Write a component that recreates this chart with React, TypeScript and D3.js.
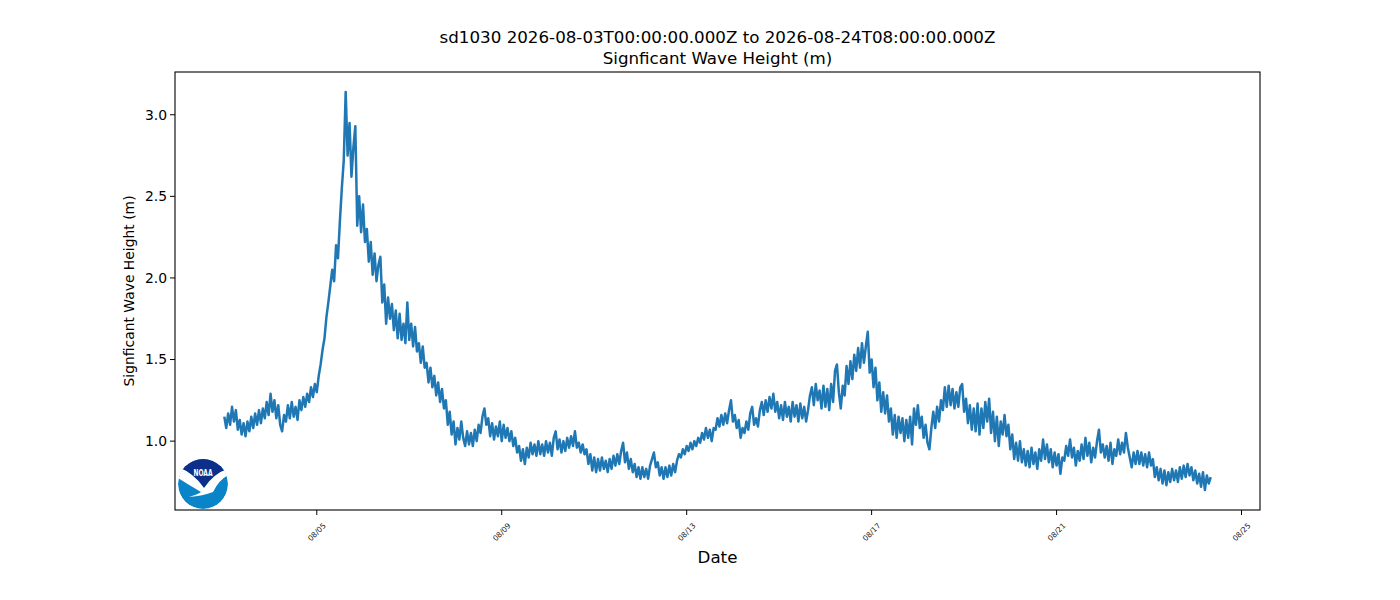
import React, { useEffect, useRef } from 'react';
import * as d3 from 'd3';

// hourly significant wave height (m), one array per UTC day
const aug03 = [1.15, 1.08, 1.17, 1.10, 1.21, 1.12, 1.19, 1.07, 1.13, 1.04, 1.11, 1.03, 1.12, 1.06, 1.15, 1.08, 1.17, 1.10, 1.19, 1.11, 1.20, 1.14, 1.24, 1.16];
const aug04 = [1.29, 1.18, 1.25, 1.14, 1.22, 1.10, 1.06, 1.16, 1.12, 1.22, 1.14, 1.24, 1.15, 1.21, 1.13, 1.25, 1.19, 1.27, 1.21, 1.29, 1.24, 1.33, 1.27, 1.35];
const aug05 = [1.30, 1.40, 1.47, 1.56, 1.63, 1.76, 1.85, 1.95, 2.05, 1.98, 2.20, 2.12, 2.35, 2.55, 2.72, 3.14, 2.75, 2.95, 2.62, 2.80, 2.93, 2.32, 2.50, 2.28];
const aug06 = [2.45, 2.22, 2.30, 2.10, 2.22, 2.02, 2.15, 1.98, 2.08, 2.13, 1.85, 1.96, 1.72, 1.88, 1.75, 1.84, 1.68, 1.80, 1.63, 1.78, 1.62, 1.72, 1.60, 1.85];
const aug07 = [1.62, 1.72, 1.58, 1.70, 1.55, 1.60, 1.48, 1.58, 1.45, 1.48, 1.36, 1.45, 1.33, 1.40, 1.28, 1.36, 1.24, 1.32, 1.20, 1.25, 1.10, 1.18, 1.04, 1.12];
const aug08 = [0.98, 1.08, 1.01, 1.12, 1.02, 0.97, 1.06, 0.98, 1.05, 0.97, 1.07, 1.00, 1.10, 1.05, 1.15, 1.20, 1.10, 1.14, 1.03, 1.11, 1.01, 1.09, 1.03, 1.12];
const aug09 = [1.00, 1.10, 1.02, 1.08, 1.00, 1.06, 0.97, 1.02, 0.93, 0.97, 0.88, 0.95, 0.86, 0.96, 0.90, 0.99, 0.92, 0.98, 0.91, 1.00, 0.92, 0.98, 0.91, 1.00];
const aug10 = [0.93, 0.99, 0.91, 1.02, 1.06, 0.95, 1.01, 0.93, 1.00, 0.94, 1.02, 0.96, 1.03, 0.97, 1.06, 0.96, 0.99, 0.93, 0.98, 0.92, 0.95, 0.86, 0.92, 0.82];
const aug11 = [0.90, 0.81, 0.89, 0.82, 0.90, 0.83, 0.88, 0.81, 0.89, 0.83, 0.91, 0.85, 0.92, 0.86, 0.94, 0.99, 0.87, 0.93, 0.83, 0.89, 0.81, 0.86, 0.78, 0.84];
const aug12 = [0.77, 0.84, 0.78, 0.83, 0.77, 0.85, 0.89, 0.93, 0.84, 0.87, 0.79, 0.84, 0.77, 0.84, 0.78, 0.85, 0.79, 0.86, 0.81, 0.88, 0.92, 0.90, 0.95, 0.92];
const aug13 = [0.97, 0.94, 0.99, 0.95, 1.00, 0.97, 1.02, 0.99, 1.05, 1.01, 1.08, 1.02, 1.07, 1.00, 1.08, 1.07, 1.14, 1.09, 1.16, 1.10, 1.17, 1.11, 1.19, 1.25];
const aug14 = [1.12, 1.16, 1.08, 1.13, 1.02, 1.08, 1.05, 1.12, 1.07, 1.17, 1.21, 1.10, 1.14, 1.09, 1.19, 1.24, 1.16, 1.25, 1.18, 1.27, 1.20, 1.29, 1.18, 1.24];
const aug15 = [1.14, 1.22, 1.13, 1.24, 1.15, 1.21, 1.12, 1.24, 1.15, 1.22, 1.12, 1.23, 1.14, 1.21, 1.12, 1.19, 1.28, 1.33, 1.22, 1.35, 1.25, 1.31, 1.20, 1.34];
const aug16 = [1.21, 1.32, 1.19, 1.35, 1.24, 1.43, 1.47, 1.30, 1.20, 1.34, 1.28, 1.46, 1.35, 1.49, 1.38, 1.53, 1.43, 1.57, 1.45, 1.60, 1.48, 1.58, 1.67, 1.42];
const aug17 = [1.50, 1.33, 1.45, 1.25, 1.36, 1.18, 1.30, 1.17, 1.28, 1.12, 1.20, 1.04, 1.16, 1.02, 1.15, 1.05, 1.14, 1.00, 1.13, 1.02, 1.15, 0.98, 1.20, 1.10];
const aug18 = [1.22, 1.08, 1.15, 1.02, 1.10, 0.99, 0.95, 1.08, 1.18, 1.08, 1.21, 1.12, 1.25, 1.19, 1.33, 1.21, 1.34, 1.22, 1.32, 1.20, 1.30, 1.21, 1.33, 1.35];
const aug19 = [1.18, 1.26, 1.11, 1.22, 1.07, 1.20, 1.06, 1.23, 1.04, 1.20, 1.08, 1.24, 1.12, 1.26, 1.05, 1.18, 1.00, 1.15, 0.97, 1.12, 1.04, 1.16, 1.03, 1.10];
const aug20 = [0.95, 1.04, 0.89, 0.99, 0.88, 1.00, 0.87, 0.95, 0.85, 0.94, 0.84, 0.96, 0.86, 0.93, 0.83, 0.95, 0.88, 1.01, 0.89, 0.98, 0.87, 0.95, 0.84, 0.93];
const aug21 = [0.85, 0.92, 0.80, 0.90, 0.88, 0.97, 0.91, 1.01, 0.90, 0.96, 0.85, 0.94, 0.88, 0.98, 0.89, 1.02, 0.91, 0.99, 0.87, 0.96, 0.90, 1.00, 1.07, 0.93];
const aug22 = [0.98, 0.90, 0.97, 0.88, 0.99, 0.86, 0.95, 0.91, 1.01, 0.92, 0.99, 0.93, 1.05, 0.96, 0.90, 0.84, 0.93, 0.86, 0.94, 0.86, 0.93, 0.85, 0.92, 0.84];
const aug23 = [0.93, 0.85, 0.89, 0.78, 0.84, 0.76, 0.83, 0.74, 0.82, 0.73, 0.81, 0.75, 0.83, 0.76, 0.82, 0.75, 0.84, 0.77, 0.85, 0.78, 0.86, 0.79, 0.84, 0.76];
const aug24 = [0.82, 0.74, 0.80, 0.72, 0.81, 0.70, 0.79, 0.74, 0.78];

const days = [aug03, aug04, aug05, aug06, aug07, aug08, aug09, aug10, aug11, aug12, aug13, aug14, aug15, aug16, aug17, aug18, aug19, aug20, aug21, aug22, aug23, aug24];

const xTickLabels = ['08/05', '08/09', '08/13', '08/17', '08/21', '08/25'];
const yTicks = [1.0, 1.5, 2.0, 2.5, 3.0];

const station = 'sd1030';
const startIso = '2026-08-03T00:00:00.000Z';
const endIso = '2026-08-24T08:00:00.000Z';

const HOUR = 3600000;
const FONT = '"DejaVu Sans", sans-serif';

interface Sample {
  t: Date;
  hs: number;
}

const App: React.FC = () => {
  const svgRef = useRef<SVGSVGElement>(null);
  const width = 1400;
  const height = 600;

  useEffect(() => {
    if (!svgRef.current) return;
    const svg = d3.select(svgRef.current);
    svg.selectAll('*').remove();

    const start = new Date(startIso).getTime();
    const data: Sample[] = [];
    days.forEach((vals, i) => {
      vals.forEach((v, h) => data.push({ t: new Date(start + (i * 24 + h) * HOUR), hs: v }));
    });

    const margin = { top: 72, right: 140, bottom: 90, left: 175 };
    const innerWidth = width - margin.left - margin.right;
    const innerHeight = height - margin.top - margin.bottom;

    // matplotlib style 5% padding on both axes
    const [t0, t1] = d3.extent(data, d => d.t.getTime()) as [number, number];
    const padT = (t1 - t0) * 0.05;
    const [v0, v1] = d3.extent(data, d => d.hs) as [number, number];
    const padV = (v1 - v0) * 0.05;

    const xScale = d3.scaleUtc()
      .domain([new Date(t0 - padT), new Date(t1 + padT)])
      .range([0, innerWidth]);

    const yScale = d3.scaleLinear()
      .domain([v0 - padV, v1 + padV])
      .range([innerHeight, 0]);

    const g = svg.append('g')
      .attr('transform', `translate(${margin.left},${margin.top})`);

    // series
    const line = d3.line<Sample>()
      .x(d => xScale(d.t))
      .y(d => yScale(d.hs));

    g.append('path')
      .datum(data)
      .attr('fill', 'none')
      .attr('stroke', '#1f77b4')
      .attr('stroke-width', 2.5)
      .attr('stroke-linejoin', 'round')
      .attr('d', line);

    // frame
    g.append('rect')
      .attr('width', innerWidth)
      .attr('height', innerHeight)
      .attr('fill', 'none')
      .attr('stroke', '#000')
      .attr('stroke-width', 1.1);

    // y axis
    const yAxis = g.append('g');
    yTicks.forEach(v => {
      const y = yScale(v);
      yAxis.append('line')
        .attr('x1', -5).attr('x2', 0)
        .attr('y1', y).attr('y2', y)
        .attr('stroke', '#000');
      yAxis.append('text')
        .attr('x', -8)
        .attr('y', y)
        .attr('dy', '0.35em')
        .attr('text-anchor', 'end')
        .style('font-family', FONT)
        .style('font-size', '13.9px')
        .text(v.toFixed(1));
    });

    // x axis
    const year = new Date(startIso).getUTCFullYear();
    const xAxis = g.append('g').attr('transform', `translate(0,${innerHeight})`);
    xTickLabels.forEach(lbl => {
      const [mm, dd] = lbl.split('/').map(Number);
      const x = xScale(new Date(Date.UTC(year, mm - 1, dd)));
      xAxis.append('line')
        .attr('x1', x).attr('x2', x)
        .attr('y1', 0).attr('y2', 5)
        .attr('stroke', '#000');
      xAxis.append('text')
        .attr('transform', `translate(${x},22) rotate(-45)`)
        .attr('text-anchor', 'middle')
        .attr('dy', '0.35em')
        .style('font-family', FONT)
        .style('font-size', '7.5px')
        .attr('fill', '#222')
        .text(lbl);
    });

    // labels and title
    const cx = margin.left + innerWidth / 2;
    svg.append('text')
      .attr('x', cx).attr('y', 563)
      .attr('text-anchor', 'middle')
      .style('font-family', FONT)
      .style('font-size', '16.7px')
      .text('Date');

    svg.append('text')
      .attr('transform', `translate(134,${margin.top + innerHeight / 2}) rotate(-90)`)
      .attr('text-anchor', 'middle')
      .style('font-family', FONT)
      .style('font-size', '13.9px')
      .text('Signficant Wave Height (m)');

    svg.append('text')
      .attr('x', cx).attr('y', 43)
      .attr('text-anchor', 'middle')
      .style('font-family', FONT)
      .style('font-size', '16.7px')
      .text(`${station} ${startIso} to ${endIso}`);

    svg.append('text')
      .attr('x', cx).attr('y', 64)
      .attr('text-anchor', 'middle')
      .style('font-family', FONT)
      .style('font-size', '16.7px')
      .text('Signficant Wave Height (m)');

    // NOAA logo
    const logo = svg.append('g').attr('transform', 'translate(203,484)');
    const defs = svg.append('defs');
    defs.append('clipPath').attr('id', 'noaa-clip')
      .append('circle').attr('r', 25);
    const lg = logo.append('g').attr('clip-path', 'url(#noaa-clip)');
    lg.append('circle').attr('r', 25).attr('fill', '#0a84c8');
    lg.append('path')
      .attr('d', 'M-28,-30 L28,-30 L28,-16 Q12,-12 1,4 Q-10,-12 -28,-18 Z')
      .attr('fill', '#0b2f8a');
    lg.append('path')
      .attr('d', 'M-28,-18 Q-10,-12 1,4 Q12,-12 28,-16 L28,-10 Q17,-6 10,8 Q0,12 -14,13 Q-4,10 -2,8 Q-14,1 -28,-8 Z')
      .attr('fill', '#fff');
    logo.append('text')
      .attr('x', 0).attr('y', -8)
      .attr('text-anchor', 'middle')
      .attr('fill', '#fff')
      .attr('textLength', 19)
      .attr('lengthAdjust', 'spacingAndGlyphs')
      .style('font-family', FONT)
      .style('font-weight', 'bold')
      .style('font-size', '9px')
      .text('NOAA');
  }, []);

  return (
    <svg
      ref={svgRef}
      width={width}
      height={height}
      style={{ position: 'absolute', left: 0, top: 0, background: '#fff' }}
    />
  );
};

export default App;
